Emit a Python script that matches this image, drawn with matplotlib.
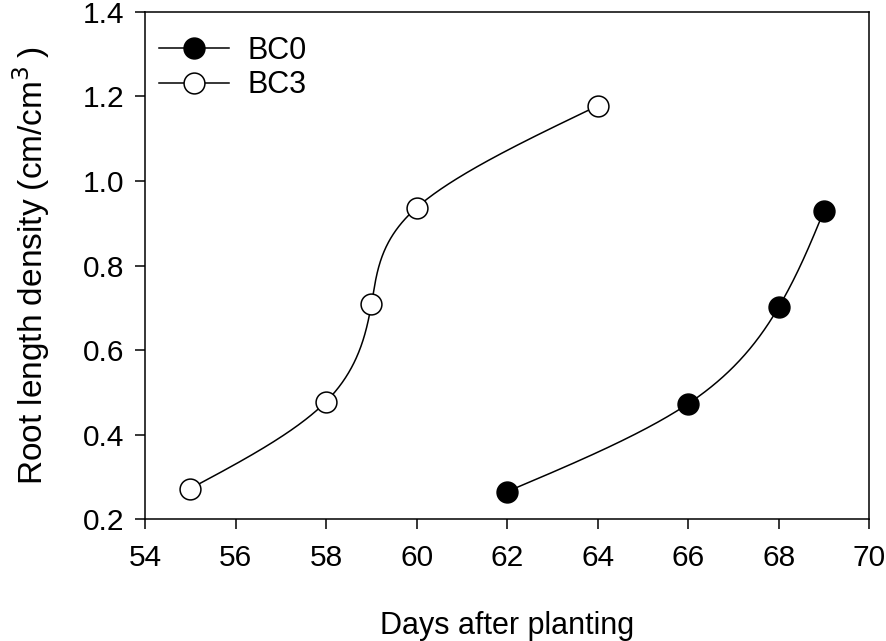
import numpy as np
import matplotlib
matplotlib.use("Agg")
import matplotlib.pyplot as plt

plt.rcParams["font.family"] = ["Liberation Sans", "DejaVu Sans"]

# data
bc0_days = [62, 66, 68, 69]
bc0_rld = [0.265, 0.473, 0.702, 0.930]
bc3_days = [55, 58, 59, 60, 64]
bc3_rld = [0.272, 0.478, 0.708, 0.937, 1.178]

XLIM = (54, 70)
YLIM = (0.2, 1.4)


def natural_1d(t, v, ts):
    # natural cubic spline of v over t, evaluated at ts
    k = len(t)
    h = np.diff(t)
    A = np.zeros((k, k))
    b = np.zeros(k)
    A[0, 0] = A[-1, -1] = 1
    for i in range(1, k - 1):
        A[i, i - 1] = h[i - 1]
        A[i, i] = 2 * (h[i - 1] + h[i])
        A[i, i + 1] = h[i]
        b[i] = 3 * ((v[i + 1] - v[i]) / h[i] - (v[i] - v[i - 1]) / h[i - 1])
    c = np.linalg.solve(A, b)
    idx = np.clip(np.searchsorted(t, ts) - 1, 0, k - 2)
    dt = ts - t[idx]
    hi = h[idx]
    bb = (v[idx + 1] - v[idx]) / hi - hi * (2 * c[idx] + c[idx + 1]) / 3
    dd = (c[idx + 1] - c[idx]) / (3 * hi)
    return v[idx] + bb * dt + c[idx] * dt ** 2 + dd * dt ** 3


def smooth_curve(x, y, n=400):
    # parametric spline in screen-like units (drawing only)
    sx = 723.0 / (XLIM[1] - XLIM[0])
    sy = 507.0 / (YLIM[1] - YLIM[0])
    px = np.asarray(x, float) * sx
    py = np.asarray(y, float) * sy
    t = np.arange(len(px), dtype=float)
    ts = np.linspace(0, t[-1], n)
    return natural_1d(t, px, ts) / sx, natural_1d(t, py, ts) / sy


fig = plt.figure(figsize=(8.86, 6.41), dpi=100)
ax = fig.add_axes([0.1637, 0.1903, 0.8175, 0.791])

for xd, yd, face, lab in [(bc0_days, bc0_rld, "black", "BC0"),
                          (bc3_days, bc3_rld, "white", "BC3")]:
    xs, ys = smooth_curve(xd, yd)
    ax.plot(xs, ys, color="black", linewidth=1.1, zorder=2)
    ax.plot(xd, yd, linestyle="none", marker="o", markersize=15,
            markerfacecolor=face, markeredgecolor="black",
            markeredgewidth=1.1, zorder=3)
    # legend proxy
    ax.plot([], [], color="black", linewidth=1.1, marker="o", markersize=15,
            markerfacecolor=face, markeredgecolor="black",
            markeredgewidth=1.1, label=lab)

ax.set_xlim(*XLIM)
ax.set_ylim(*YLIM)
ax.set_xticks(np.arange(54, 71, 2))
ax.set_yticks(np.arange(0.2, 1.41, 0.2))
ax.set_yticklabels([f"{v:.1f}" for v in np.arange(0.2, 1.41, 0.2)])
ax.tick_params(direction="out", length=7, width=1.1, labelsize=21.5, pad=8,
               top=False, right=False)
ax.tick_params(axis="x", pad=11)
for s in ax.spines.values():
    s.set_linewidth(1.1)

ax.set_xlabel("Days after planting", fontsize=22, labelpad=28)
ax.set_ylabel("Root length density (cm/cm$^3$\u2009)", fontsize=24, labelpad=22)

ax.legend(loc="upper left", frameon=False, fontsize=22, handlelength=2.3,
          borderaxespad=0, borderpad=0.45, labelspacing=0.15,
          handletextpad=0.6, bbox_to_anchor=(0.0, 0.98))

fig.savefig("out.png", dpi=100)
